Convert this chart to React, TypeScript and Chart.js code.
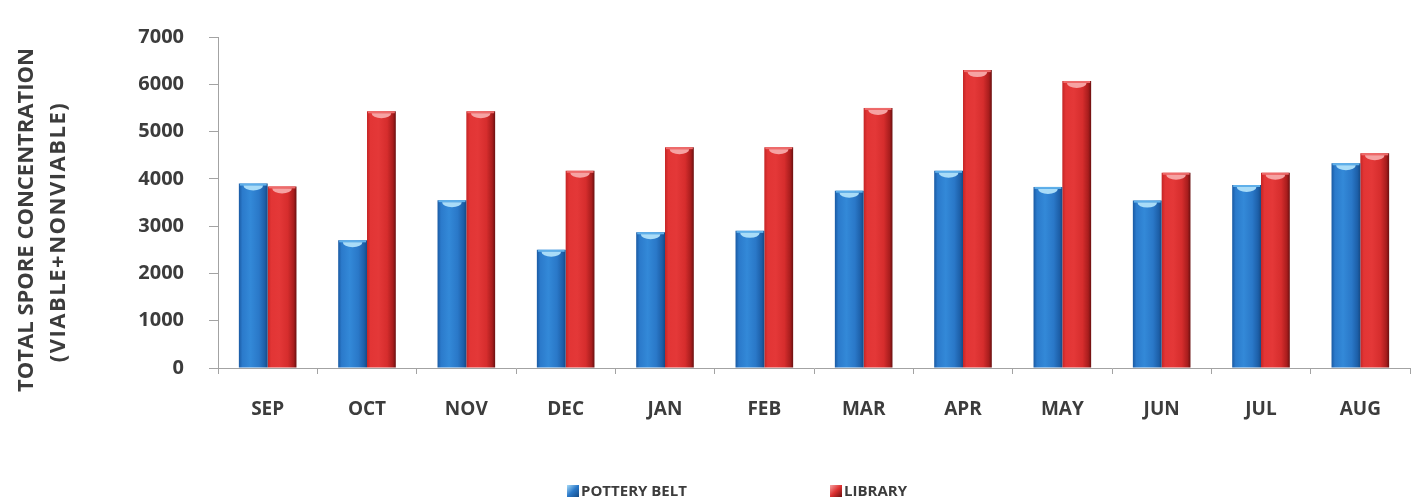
import React, { useEffect, useRef } from "react";
import { Chart, registerables } from "chart.js";

Chart.register(...registerables);

const months = ["SEP", "OCT", "NOV", "DEC", "JAN", "FEB", "MAR", "APR", "MAY", "JUN", "JUL", "AUG"];
const potteryBelt = [3900, 2700, 3550, 2500, 2870, 2900, 3750, 4170, 3830, 3540, 3870, 4330];
const library = [3840, 5430, 5430, 4170, 4670, 4670, 5500, 6300, 6070, 4130, 4130, 4540];
const seriesNames = ["POTTERY BELT", "LIBRARY"];
const yTitleLines = ["TOTAL SPORE CONCENTRATION", "(VIABLE+NONVIABLE)"];

const FONT = '"Open Sans", "DejaVu Sans", sans-serif';
const TEXT = "#3c3c3c";
const AXIS = "#a3a3a3";
const CAT_PCT = 0.58;

const palettes = [
  {
    flat: "#2a78c8",
    stops: ["#1a5aa3", "#2b7acb", "#3389d8", "#2a78c8", "#1d5fa8", "#154a85"],
    cap: "#a9dcf8",
    capEdge: "#5fb0ea",
  },
  {
    flat: "#dd3030",
    stops: ["#c42525", "#e23535", "#e43838", "#d62d2d", "#a81d1d", "#6a1010"],
    cap: "#f6a3a3",
    capEdge: "#ee6b6b",
  },
];

function gradientFor(ctx: any) {
  const chart = ctx.chart;
  const pal = palettes[ctx.datasetIndex] || palettes[0];
  const xs = chart.scales && chart.scales.x;
  if (!xs || !chart.chartArea || ctx.type !== "data") return pal.flat;
  const center = xs.getPixelForValue(ctx.dataIndex);
  const catW = xs.width / months.length;
  const bw = (catW * CAT_PCT) / 2;
  const left = ctx.datasetIndex === 0 ? center - bw : center;
  const g = chart.ctx.createLinearGradient(left, 0, left + bw, 0);
  const pos = [0, 0.12, 0.4, 0.7, 0.9, 1];
  pal.stops.forEach((c, i) => g.addColorStop(pos[i], c));
  return g;
}

const capPlugin = {
  id: "capPlugin",
  afterDatasetsDraw(chart: any) {
    const c = chart.ctx;
    chart.data.datasets.forEach((_: any, di: number) => {
      const meta = chart.getDatasetMeta(di);
      const pal = palettes[di];
      meta.data.forEach((bar: any) => {
        const { x, y, width } = bar.getProps(["x", "y", "width"], true);
        const left = x - width / 2;
        c.save();
        c.fillStyle = pal.capEdge;
        c.fillRect(left + 1, y, width - 2, 2);
        c.beginPath();
        c.ellipse(x, y + 2, width * 0.34, 5, 0, 0, Math.PI);
        c.fillStyle = pal.cap;
        c.fill();
        c.restore();
      });
    });
  },
};

const titleLegendPlugin = {
  id: "titleLegendPlugin",
  afterDraw(chart: any) {
    const c = chart.ctx;
    c.save();
    c.fillStyle = TEXT;
    c.textAlign = "center";
    c.textBaseline = "middle";
    c.font = `bold 22px ${FONT}`;
    c.translate(27, 220);
    c.rotate(-Math.PI / 2);
    c.fillText(yTitleLines[0], 0, 0);
    (c as any).letterSpacing = "1.5px";
    c.fillText(yTitleLines[1], -12, 32);
    c.restore();

    const items = [
      { x: 567, label: seriesNames[0], pal: palettes[0] },
      { x: 830, label: seriesNames[1], pal: palettes[1] },
    ];
    c.save();
    c.font = `bold 15px ${FONT}`;
    c.textBaseline = "middle";
    c.textAlign = "left";
    items.forEach((it) => {
      const by = 485;
      const g = c.createLinearGradient(it.x, by, it.x + 12, by + 12);
      g.addColorStop(0, it.pal.cap);
      g.addColorStop(0.5, it.pal.flat);
      g.addColorStop(1, it.pal.stops[5]);
      c.fillStyle = g;
      c.fillRect(it.x, by, 12, 12);
      c.fillStyle = TEXT;
      c.fillText(it.label, it.x + 14, by + 6.5);
    });
    c.restore();
  },
};

export default function App() {
  const ref = useRef<HTMLCanvasElement | null>(null);
  useEffect(() => {
    if (!ref.current) return;
    const chart = new Chart(ref.current, {
      type: "bar",
      data: {
        labels: months,
        datasets: [
          { label: seriesNames[0], data: potteryBelt, backgroundColor: gradientFor as any, borderWidth: 0 },
          { label: seriesNames[1], data: library, backgroundColor: gradientFor as any, borderWidth: 0 },
        ],
      },
      options: {
        responsive: false,
        animation: false,
        devicePixelRatio: 1,
        layout: { padding: { left: 0, right: 1, top: 29, bottom: 0 } },
        datasets: { bar: { categoryPercentage: CAT_PCT, barPercentage: 1 } },
        plugins: { legend: { display: false }, tooltip: { enabled: false }, title: { display: false } },
        scales: {
          x: {
            afterFit: (s: any) => {
              s.height = 136;
            },
            grid: { display: true, drawOnChartArea: false, drawTicks: true, tickLength: 6, color: AXIS, offset: true },
            border: { display: true, color: AXIS, width: 1 },
            ticks: { color: TEXT, font: { family: FONT, size: 19, weight: "bold" }, padding: 24, maxRotation: 0 },
          },
          y: {
            min: 0,
            max: 7000,
            afterFit: (s: any) => {
              s.width = 218;
            },
            grid: { display: true, drawOnChartArea: false, drawTicks: true, tickLength: 9, color: AXIS },
            border: { display: true, color: AXIS, width: 1 },
            ticks: {
              stepSize: 1000,
              color: TEXT,
              font: { family: FONT, size: 20, weight: "bold" },
              padding: 25,
              callback: (v: any) => String(v),
            },
          },
        },
      },
      plugins: [capPlugin, titleLegendPlugin],
    });
    return () => chart.destroy();
  }, []);
  return (
    <div style={{ position: "absolute", left: 0, top: 0, width: 1411, height: 504, background: "#fff" }}>
      <canvas ref={ref} width={1411} height={504} style={{ width: 1411, height: 504, display: "block" }} />
    </div>
  );
}
